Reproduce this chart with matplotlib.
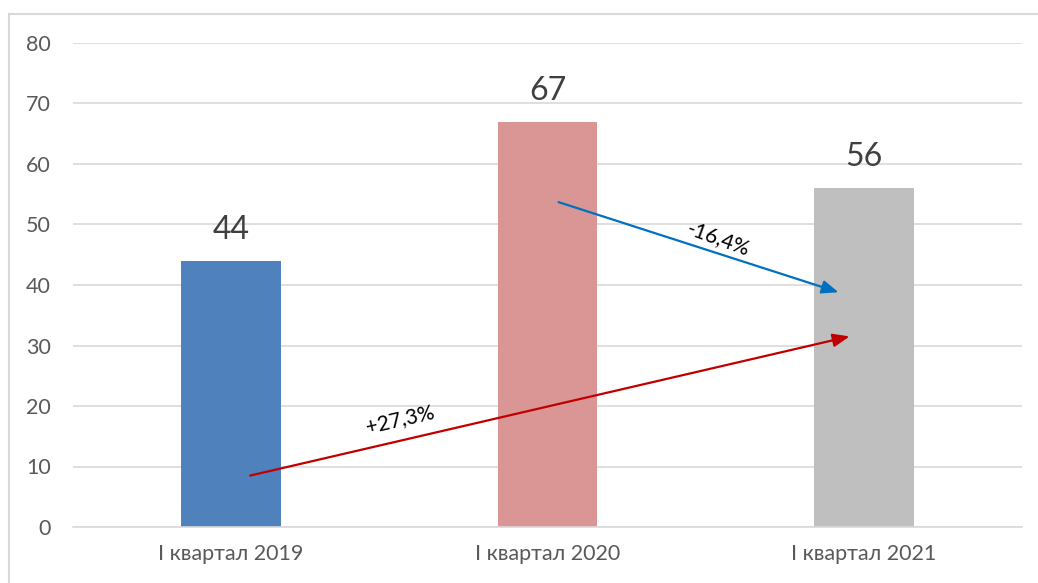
import matplotlib.pyplot as plt
from matplotlib.lines import Line2D

categories = ['I квартал 2019', 'I квартал 2020', 'I квартал 2021']
values = [44, 67, 56]
bar_colors = ['#4F81BD', '#D99694', '#BFBFBF']
yticks = [0, 10, 20, 30, 40, 50, 60, 70, 80]

# arrows: (start x, start y) -> (end x, end y) in data units
growth_label = '+27,3%'
growth_arrow = [(0.06, 8.5), (1.955, 31.5)]
drop_label = '-16,4%'
drop_arrow = [(1.035, 53.7), (1.92, 38.8)]

plt.rcParams['font.family'] = ['Lato', 'DejaVu Sans']

fig = plt.figure(figsize=(10.38, 5.83), dpi=100)
ax = fig.add_axes([73 / 1038, 1 - 527 / 583, 949 / 1038, 484 / 583])

x = range(len(categories))
ax.bar(x, values, width=0.315, color=bar_colors, zorder=2)
for xi, v in zip(x, values):
    ax.text(xi, v + 2.6, str(v), ha='center', va='bottom', fontsize=23, color='#404040')

ax.set_xlim(-0.5, 2.5)
ax.set_ylim(0, 80)
ax.set_yticks(yticks)
ax.set_xticks(list(x))
ax.set_xticklabels(categories)
ax.yaxis.grid(True, color='#D9D9D9', linewidth=1.2, zorder=0)
ax.set_axisbelow(True)
for s in ['top', 'right', 'left']:
    ax.spines[s].set_visible(False)
ax.spines['bottom'].set_color('#D9D9D9')
ax.spines['bottom'].set_linewidth(1.2)
ax.tick_params(axis='both', length=0, labelsize=15.5, labelcolor='#595959')
ax.tick_params(axis='y', pad=16)
ax.tick_params(axis='x', pad=12)

ax.annotate('', xy=growth_arrow[1], xytext=growth_arrow[0],
            arrowprops=dict(arrowstyle='-|>,head_length=1.0,head_width=0.4', color='#C00000', lw=1.6,
                            shrinkA=0, shrinkB=0), zorder=3)
ax.annotate('', xy=drop_arrow[1], xytext=drop_arrow[0],
            arrowprops=dict(arrowstyle='-|>,head_length=1.0,head_width=0.4', color='#0070C0', lw=1.6,
                            shrinkA=0, shrinkB=0), zorder=3)
ax.text(0.535, 17.8, growth_label, rotation=13, ha='center', va='center', fontsize=15, color='black')
ax.text(1.54, 47.6, drop_label, rotation=-20, ha='center', va='center', fontsize=15, color='black')

# outer frame
fig.add_artist(Line2D([8.5 / 1038, 8.5 / 1038], [0, 1 - 13.5 / 583], color='#D9D9D9', lw=1.5))
fig.add_artist(Line2D([8.5 / 1038, 1], [1 - 13.5 / 583, 1 - 13.5 / 583], color='#D9D9D9', lw=1.5))

fig.savefig('out.png', dpi=100)
